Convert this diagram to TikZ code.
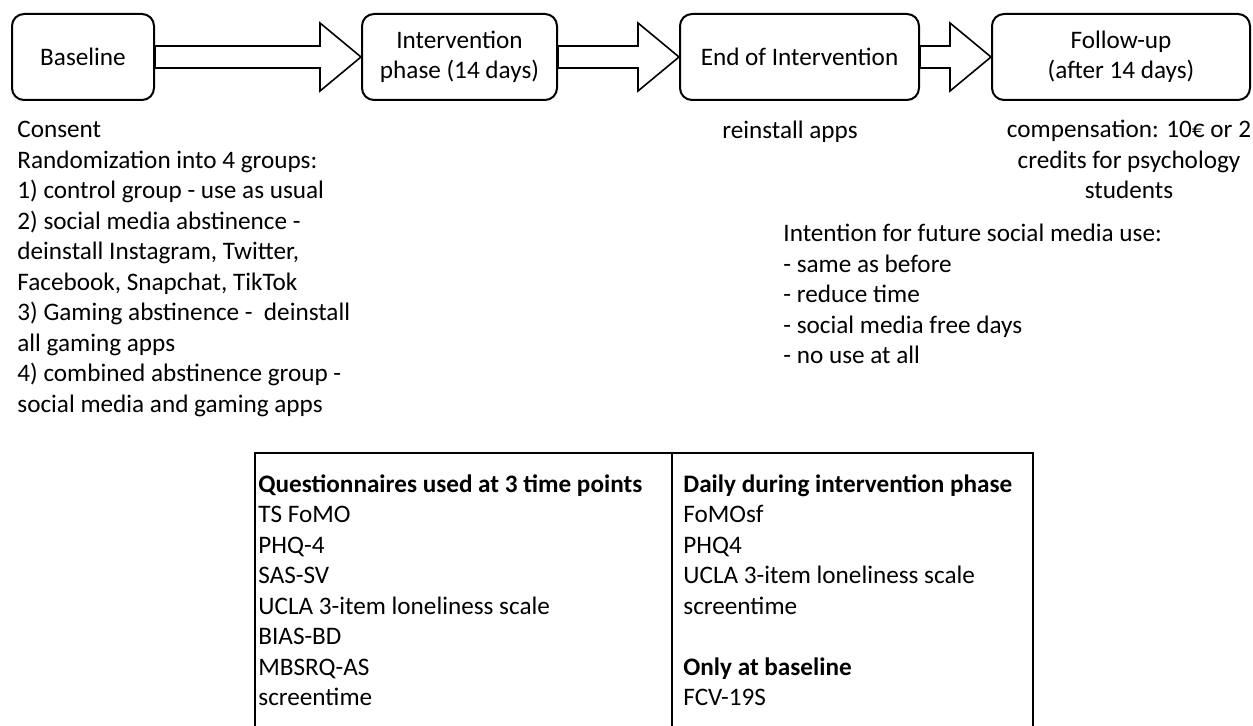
\documentclass[tikz,border=0pt]{standalone}
\usepackage{fontspec}
\setmainfont{Carlito}
\usetikzlibrary{positioning,calc}

\tikzset{
	phase/.style={draw, line width=1pt, rounded corners=6pt, align=center, minimum height=43pt, inner sep=0pt},
	blockarrow/.style={draw, line width=0.8pt, line join=miter, fill=white},
	note/.style={align=left, inner sep=0pt},
	tableline/.style={draw, line width=0.8pt}
}

\begin{document}
\begin{tikzpicture}[x=0.5pt, y=-0.5pt, font=\fontsize{12.6pt}{15.25pt}\selectfont]
		\useasboundingbox (0,0) rectangle (1253,726);

		% the four time points
		\node[phase, minimum width=71pt] (base) at (83,57) {Baseline};
		\node[phase, minimum width=97.5pt] (interv) at (459.5,57) {Intervention\\phase (14 days)};
		\node[phase, minimum width=119.5pt] (endint) at (799.5,57) {End of Intervention};
		\node[phase, minimum width=129pt] (follow) at (1121,57) {Follow-up\\(after 14 days)};

		\foreach \a/\b in {base/interv, interv/endint, endint/follow}
			\draw[blockarrow] let \p1=(\a.east), \p2=(\b.west) in
				(\x1,\y1+5.5pt) -- (\x2-20.5pt,\y1+5.5pt) -- (\x2-20.5pt,\y1+17pt) -- (\x2,\y2)
				-- (\x2-20.5pt,\y1-17pt) -- (\x2-20.5pt,\y1-5.5pt) -- (\x1,\y1-5.5pt) -- cycle;

		% notes under the boxes (anchored at the last line)
		\node[note, anchor=base west] (groups) at (17,412.5) {Consent\\Randomization into 4 groups:\\1) control group - use as usual\\2) social media abstinence -\\deinstall Instagram, Twitter,\\Facebook, Snapchat, TikTok\\3) Gaming abstinence -\ \ deinstall\\all gaming apps\\4) combined abstinence group -\\social media and gaming apps};
		\node[anchor=base, inner sep=0pt] (reinst) at (790,139) {reinstall apps};
		\node[note, align=center, anchor=base] (comp) at (1129,199) {compensation: 10€ or 2\\credits for psychology\\students};
		\node[note, anchor=base west] (intent) at (783,364) {Intention for future social media use:\\- same as before\\- reduce time\\- social media free days\\- no use at all};

		% measures table
		\draw[tableline] (255,730) |- (1033,453) -- (1033,730);
		\draw[tableline] (672,453) -- (672,730);
		\node[note, anchor=base west] (tpoints) at (258,705.5) {\textbf{Questionnaires used at 3 time points}\\TS FoMO\\PHQ-4\\SAS-SV\\UCLA 3-item loneliness scale\\BIAS-BD\\MBSRQ-AS\\screentime};
		\node[note, anchor=base west] (daily) at (683,705.5) {\textbf{Daily during intervention phase}\\FoMOsf\\PHQ4\\UCLA 3-item loneliness scale\\screentime\\[15.25pt]\textbf{Only at baseline}\\FCV-19S};

	\end{tikzpicture}
\end{document}
